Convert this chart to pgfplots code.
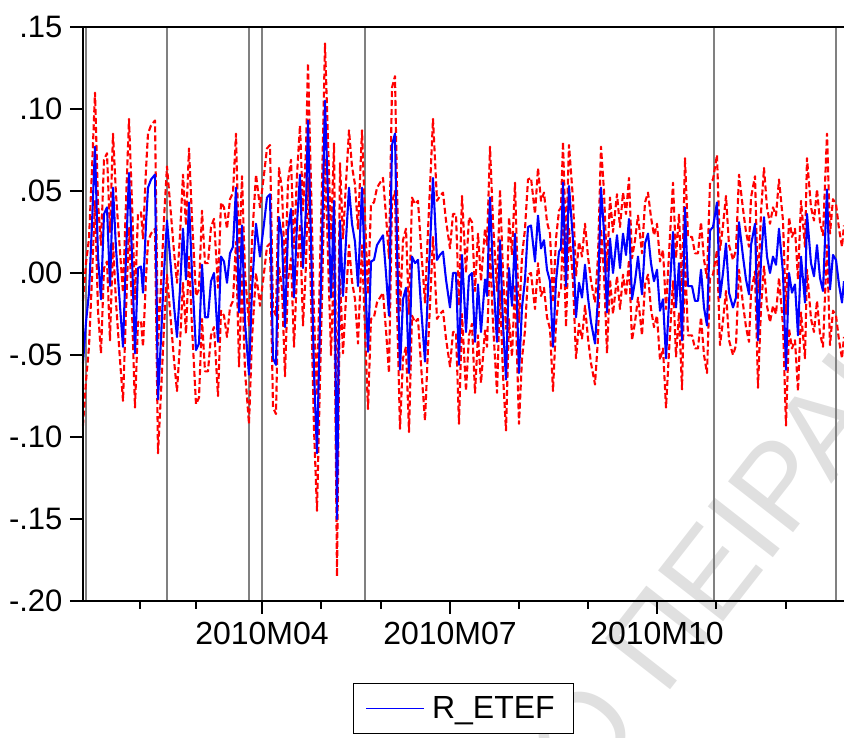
\documentclass[border=0pt]{standalone}
\usepackage{fontspec}
\setmainfont{Liberation Sans}
\usepackage{pgfplots}
\pgfplotsset{compat=1.18}
\usepackage{pgfplotstable}

\pgfplotstableread{
x y up lo
83 -0.055 -0.017 -0.093
86 -0.030 0.006 -0.066
89 -0.012 0.021 -0.045
92 0.030 0.063 -0.003
95 0.077 0.110 0.044
98 0.010 0.043 -0.023
101 -0.016 0.017 -0.049
104 0.036 0.069 0.003
107 0.040 0.073 0.007
110 -0.008 0.025 -0.041
113 0.052 0.085 0.019
116 0.015 0.048 -0.018
120 -0.020 0.013 -0.053
123 -0.045 -0.012 -0.078
126 0.010 0.043 -0.023
129 0.061 0.094 0.028
132 0.010 0.043 -0.023
135 -0.049 -0.016 -0.082
138 0.003 0.036 -0.030
141 0.004 0.037 -0.029
143 -0.012 0.021 -0.045
146 0.030 0.063 -0.003
148 0.052 0.085 0.019
151 0.057 0.090 0.024
155 0.060 0.093 0.027
158 -0.077 -0.044 -0.110
161 -0.040 -0.007 -0.073
164 0.000 0.033 -0.033
167 0.032 0.065 -0.001
170 0.010 0.043 -0.023
174 -0.020 0.013 -0.053
177 -0.039 -0.006 -0.072
180 -0.010 0.023 -0.043
183 0.027 0.060 -0.006
186 -0.004 0.029 -0.037
189 0.043 0.076 0.010
192 0.000 0.033 -0.033
196 -0.047 -0.014 -0.080
199 -0.043 -0.010 -0.076
202 0.005 0.038 -0.028
205 -0.027 0.006 -0.060
208 -0.027 0.006 -0.060
211 -0.005 0.028 -0.038
214 0.000 0.033 -0.033
218 -0.042 -0.009 -0.075
221 0.010 0.043 -0.023
224 0.007 0.040 -0.026
227 -0.006 0.027 -0.039
230 0.012 0.045 -0.021
233 0.016 0.049 -0.017
236 0.052 0.085 0.019
239 -0.024 0.009 -0.057
242 0.029 0.059 -0.001
245 -0.030 0.000 -0.060
249 -0.062 -0.032 -0.092
252 -0.010 0.020 -0.040
256 0.030 0.060 0.000
260 0.010 0.040 -0.020
264 0.030 0.060 0.000
267 0.046 0.076 0.016
270 0.048 0.078 0.018
273 -0.052 -0.022 -0.082
276 -0.056 -0.026 -0.086
279 0.034 0.064 0.004
282 0.021 0.051 -0.009
285 -0.033 -0.003 -0.063
288 0.026 0.056 -0.004
291 0.039 0.069 0.009
294 -0.015 0.015 -0.045
297 0.030 0.060 0.000
300 0.060 0.090 0.030
303 0.003 0.038 -0.032
306 0.040 0.075 0.005
308 0.093 0.128 0.058
311 0.019 0.054 -0.016
314 -0.060 -0.025 -0.095
317 -0.110 -0.075 -0.145
320 -0.030 0.005 -0.065
322 0.019 0.054 -0.016
325 0.105 0.140 0.070
328 0.046 0.081 0.011
331 -0.015 0.020 -0.050
334 0.044 0.079 0.009
337 -0.150 -0.115 -0.185
340 0.032 0.067 -0.003
343 -0.014 0.021 -0.049
346 0.020 0.055 -0.015
349 0.052 0.087 0.017
352 0.030 0.065 -0.005
355 0.019 0.054 -0.016
358 -0.008 0.027 -0.043
362 0.052 0.087 0.017
365 0.000 0.035 -0.035
368 -0.048 -0.013 -0.083
371 0.007 0.042 -0.028
374 0.008 0.043 -0.027
377 0.017 0.052 -0.018
380 0.020 0.055 -0.015
383 0.023 0.058 -0.012
386 0.000 0.035 -0.035
389 -0.026 0.009 -0.061
392 0.078 0.113 0.043
395 0.085 0.120 0.050
397 0.016 0.052 -0.020
400 -0.059 -0.023 -0.095
403 -0.016 0.020 -0.052
406 -0.009 0.027 -0.045
409 -0.061 -0.025 -0.097
412 0.010 0.046 -0.026
415 0.006 0.042 -0.030
418 0.008 0.044 -0.028
421 -0.020 0.016 -0.056
425 -0.054 -0.018 -0.090
428 -0.010 0.026 -0.046
431 0.030 0.066 -0.006
433 0.058 0.094 0.022
437 0.008 0.044 -0.028
440 0.011 0.047 -0.025
443 0.013 0.049 -0.023
446 -0.004 0.032 -0.040
450 -0.021 0.015 -0.057
453 0.000 0.036 -0.036
456 0.000 0.036 -0.036
459 -0.056 -0.020 -0.092
462 0.011 0.047 -0.025
466 -0.036 0.000 -0.072
469 -0.002 0.034 -0.038
472 0.000 0.031 -0.031
475 -0.042 -0.011 -0.073
478 -0.007 0.024 -0.038
481 -0.036 -0.005 -0.067
485 -0.004 0.027 -0.035
487 -0.014 0.017 -0.045
490 0.046 0.077 0.015
493 0.000 0.031 -0.031
497 -0.042 -0.011 -0.073
500 0.020 0.051 -0.011
503 -0.031 0.000 -0.062
506 -0.065 -0.034 -0.096
509 0.003 0.034 -0.028
512 -0.020 0.011 -0.051
515 0.024 0.055 -0.007
519 -0.061 -0.030 -0.092
522 -0.021 0.010 -0.052
525 -0.004 0.027 -0.035
528 0.028 0.057 -0.001
531 0.029 0.058 0.000
535 0.007 0.036 -0.022
538 0.035 0.064 0.006
541 0.015 0.044 -0.014
544 0.020 0.049 -0.009
547 0.002 0.031 -0.027
550 -0.005 0.024 -0.034
553 -0.045 -0.018 -0.072
556 -0.005 0.021 -0.031
559 0.013 0.038 -0.012
561 0.015 0.040 -0.010
563 0.055 0.080 0.030
566 -0.008 0.017 -0.033
569 0.053 0.078 0.028
573 0.020 0.045 -0.005
576 -0.027 -0.002 -0.052
579 -0.006 0.019 -0.031
582 -0.015 0.010 -0.040
585 0.005 0.030 -0.020
588 -0.015 0.010 -0.040
591 -0.030 -0.005 -0.055
595 -0.043 -0.018 -0.068
598 -0.015 0.010 -0.040
601 0.052 0.077 0.027
604 0.025 0.050 0.000
607 -0.024 0.001 -0.049
610 0.021 0.046 -0.004
613 0.000 0.025 -0.025
617 0.023 0.048 -0.002
620 0.003 0.028 -0.022
623 0.024 0.049 -0.001
626 0.011 0.036 -0.014
629 0.033 0.058 0.008
632 -0.016 0.009 -0.041
635 -0.005 0.020 -0.030
638 0.010 0.035 -0.015
642 -0.013 0.012 -0.038
645 0.018 0.043 -0.007
648 0.024 0.049 -0.001
651 0.006 0.034 -0.022
654 -0.005 0.023 -0.033
657 0.002 0.030 -0.026
660 -0.023 0.007 -0.053
663 -0.016 0.014 -0.046
666 -0.052 -0.022 -0.082
670 -0.007 0.023 -0.037
673 0.025 0.055 -0.005
676 -0.021 0.009 -0.051
679 0.006 0.036 -0.024
682 -0.041 -0.011 -0.071
685 0.040 0.070 0.010
688 -0.008 0.022 -0.038
692 -0.008 0.022 -0.038
695 -0.017 0.012 -0.046
698 -0.017 0.012 -0.046
701 0.002 0.031 -0.027
704 -0.021 0.008 -0.050
707 -0.032 -0.003 -0.061
710 0.026 0.055 -0.003
713 0.028 0.057 -0.001
717 0.043 0.072 0.014
720 -0.015 0.014 -0.044
723 0.000 0.029 -0.029
726 0.018 0.047 -0.011
729 -0.012 0.017 -0.041
733 -0.021 0.008 -0.050
736 -0.015 0.014 -0.044
739 0.031 0.060 0.002
743 0.010 0.039 -0.019
746 -0.004 0.025 -0.033
749 -0.013 0.016 -0.042
751 0.017 0.046 -0.012
755 0.030 0.059 0.001
758 -0.041 -0.012 -0.070
761 0.008 0.037 -0.021
764 0.034 0.064 0.004
767 0.010 0.040 -0.020
770 0.000 0.030 -0.030
773 0.010 0.040 -0.020
776 0.005 0.035 -0.025
779 0.027 0.057 -0.003
783 0.000 0.032 -0.032
786 -0.059 -0.025 -0.093
789 0.000 0.034 -0.034
792 -0.012 0.022 -0.046
795 -0.007 0.027 -0.041
798 -0.038 -0.004 -0.072
801 0.010 0.044 -0.024
805 -0.018 0.016 -0.052
807 0.036 0.070 0.002
811 0.006 0.040 -0.028
814 -0.002 0.032 -0.036
817 0.017 0.051 -0.017
820 -0.003 0.031 -0.037
823 -0.011 0.023 -0.045
827 0.051 0.085 0.017
830 -0.010 0.024 -0.044
833 0.011 0.045 -0.023
836 0.008 0.042 -0.026
839 -0.007 0.027 -0.041
842 -0.018 0.016 -0.052
844 -0.005 0.029 -0.039
}\datatable

\begin{document}
\begin{tikzpicture}[x=1pt,y=1pt]
% watermark (behind everything)
\node[rotate=52, anchor=base west, inner sep=0pt, text=black!12,
      font=\fontsize{120}{120}\selectfont] at (581,-97) {ΠΕΙΡΑΙΩΣ};
\node[rotate=52, anchor=base east, inner sep=0pt, text=black!12,
      font=\fontsize{120}{120}\selectfont] at (561,-123) {ΠΑΝΕΠΙΣΤΗΜΙΟ};
\begin{axis}[
  at={(0pt,0pt)}, anchor=south west,
  scale only axis, width=761pt, height=574pt,
  xmin=83, xmax=844, ymin=-0.2, ymax=0.15,
  axis line style={draw=none},
  clip=false,
  tick align=outside,
  xtick pos=bottom, ytick pos=left,
  ytick={-0.2,-0.15,-0.1,-0.05,0,0.05,0.1,0.15},
  yticklabels={-.20,-.15,-.10,-.05,.00,.05,.10,.15},
  xtick={262,450,657},
  xticklabels={2010M04,2010M07,2010M10},
  minor xtick={140,196,321,381,519,588,716,786},
  major tick length=13pt, minor tick length=8pt,
  tick style={black, line width=1.3pt},
  yticklabel style={font=\fontsize{31}{36}\selectfont, xshift=-4pt},
  xticklabel style={font=\fontsize{32}{38}\selectfont, yshift=-5pt},
  extra x ticks={86,167,249,262,365,714,836},
  extra x tick labels={},
  extra x tick style={grid=major, major grid style={gray, line width=1.3pt}, tick style={draw=none}},
  legend style={at={(axis description cs:0.5,0)}, anchor=north, yshift=-82pt,
    draw=black, line width=1.3pt, font=\fontsize{32}{38}\selectfont,
    inner xsep=12pt, inner ysep=11pt,
    nodes={inner xsep=7pt}},
  legend image code/.code={\draw[blue, line width=1.8pt, solid] (0pt,0pt) -- (58pt,0pt);},
]
\addplot[red, line width=2.1pt, dash pattern=on 6pt off 3pt, line join=round, forget plot] table[x=x, y=up] {\datatable};
\addplot[red, line width=2.1pt, dash pattern=on 6pt off 3pt, line join=round, forget plot] table[x=x, y=lo] {\datatable};
\addplot[blue, line width=2.1pt, line join=round] table[x=x, y=y] {\datatable};
\addlegendentry{R\_ETEF}
\draw[black, line width=2.8pt] (rel axis cs:1,1) -- (rel axis cs:0,1) -- (rel axis cs:0,0) -- (rel axis cs:1,0);
\end{axis}
\pgfresetboundingbox
\useasboundingbox (-83,-137) rectangle (761,601);
\end{tikzpicture}
\end{document}
